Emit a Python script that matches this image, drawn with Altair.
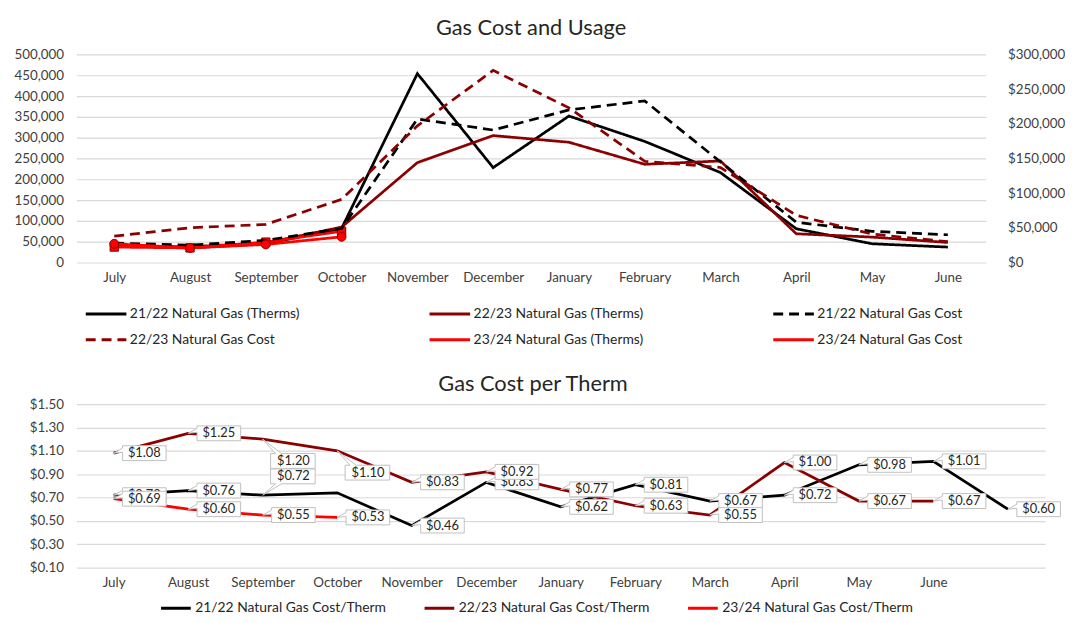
import altair as alt
import pandas as pd

# ---------------- data ----------------
months = ["July", "August", "September", "October", "November", "December",
          "January", "February", "March", "April", "May", "June"]

# legend entries are laid out column by column (2 rows x 3 columns)
top_series = ["21/22 Natural Gas (Therms)", "22/23 Natural Gas Cost",
              "22/23 Natural Gas (Therms)", "23/24 Natural Gas (Therms)",
              "21/22 Natural Gas Cost", "23/24 Natural Gas Cost"]

therms_2122 = [40000, 35000, 45000, 82000, 454000, 228000, 352000, 291000, 216000, 81000, 45000, 37000]
therms_2223 = [40000, 38000, 47000, 85000, 240000, 305000, 289000, 236000, 244000, 69000, 61000, 48000]
therms_2324 = [37000, 35000, 49000, 75000]
cost_2122 = [28000, 25000, 32000, 49000, 207000, 191000, 220000, 233000, 145000, 58000, 45000, 40000]
cost_2223 = [38000, 50000, 55000, 91000, 197000, 277000, 223000, 146000, 137000, 68000, 41000, 30000]
cost_2324 = [27000, 21000, 26000, 37000]

cpt_slots = months + [" "]   # 13th, unlabeled slot on the per-therm chart
cpt_series = ["21/22 Natural Gas Cost/Therm", "22/23 Natural Gas Cost/Therm", "23/24 Natural Gas Cost/Therm"]
cpt_2122 = [0.72, 0.76, 0.72, 0.74, 0.46, 0.83, 0.62, 0.81, 0.67, 0.72, 0.98, 1.01, 0.60]
cpt_2223 = [1.08, 1.25, 1.20, 1.10, 0.83, 0.92, 0.77, 0.63, 0.55, 1.00, 0.67, 0.67]
cpt_2324 = [0.69, 0.60, 0.55, 0.53]

# label styling (which labels are hidden / where the callout sits)
hidden_labels = {("21/22 Natural Gas Cost/Therm", "October")}
label_place = {("22/23 Natural Gas Cost/Therm", "September"): "below",
               ("21/22 Natural Gas Cost/Therm", "September"): "above",
               ("22/23 Natural Gas Cost/Therm", "October"): "below"}

# ---------------- styles ----------------
BLACK, DARK, RED = "#000000", "#8B0000", "#FF0000"
style_color = {"21/22 Natural Gas (Therms)": BLACK, "22/23 Natural Gas (Therms)": DARK,
               "21/22 Natural Gas Cost": BLACK, "22/23 Natural Gas Cost": DARK,
               "23/24 Natural Gas (Therms)": RED, "23/24 Natural Gas Cost": RED}
style_dash = {"21/22 Natural Gas Cost": [10, 6], "22/23 Natural Gas Cost": [10, 6]}
top_colors = [style_color[s] for s in top_series]
top_dash = [style_dash.get(s, [1, 0]) for s in top_series]
cpt_colors = [BLACK, DARK, RED]
FONT = "Lato"
TXT = "#262626"
AX = dict(labelFont=FONT, labelFontSize=13.5, labelColor="#404040", gridColor="#d9d9d9", gridWidth=1.2,
          ticks=False, domain=False, title=None)

bubble = {
    "right": "M0,0 L9,-5 L9,-7.5 L53,-7.5 L53,7.5 L9,7.5 L9,-1 Z",
    "below": "M0,0 L19,14.5 L53,14.5 L53,29.5 L8,29.5 L8,14.5 L13,14.5 Z",
    "above": "M0,0 L19,-11.5 L53,-11.5 L53,-26.5 L8,-26.5 L8,-11.5 L13,-11.5 Z",
}
bubble_dy = {"right": 0, "below": 22, "above": -19}

# ---------------- tables ----------------
rows = []
for name, vals, kind in [("21/22 Natural Gas (Therms)", therms_2122, "therms"),
                         ("22/23 Natural Gas (Therms)", therms_2223, "therms"),
                         ("21/22 Natural Gas Cost", cost_2122, "cost"),
                         ("22/23 Natural Gas Cost", cost_2223, "cost"),
                         ("23/24 Natural Gas (Therms)", therms_2324, "therms"),
                         ("23/24 Natural Gas Cost", cost_2324, "cost")]:
    for i, v in enumerate(vals):
        rows.append({"month": months[i], "idx": i, "series": name, "value": v, "kind": kind})
top_df = pd.DataFrame(rows)

rows = []
for name, vals in zip(cpt_series, [cpt_2122, cpt_2223, cpt_2324]):
    for i, v in enumerate(vals):
        m = cpt_slots[i]
        rows.append({"month": m, "idx": i, "series": name, "value": v,
                     "show": (name, m) not in hidden_labels,
                     "place": label_place.get((name, m), "right")})
cpt_df = pd.DataFrame(rows)

# ---------------- top chart ----------------
top_legend = alt.Legend(title=None, orient="none", legendX=8, legendY=254, columns=3,
                        symbolType="stroke", symbolSize=1681, symbolStrokeWidth=3,
                        clipHeight=16, rowPadding=10, columnPadding=129, gridAlign="all",
                        labelFont=FONT, labelFontSize=14, labelColor=TXT, labelOffset=2,
                        labelLimit=400, padding=0)

x_top = alt.X("month:O", scale=alt.Scale(domain=months), sort=None,
              axis=alt.Axis(labelAngle=0, labelPadding=8, grid=False, **AX))
y_left = alt.Y("value:Q", scale=alt.Scale(domain=[0, 500000]),
               axis=alt.Axis(orient="left", values=list(range(0, 500001, 50000)), format=",.0f",
                             labelPadding=13, grid=True, **AX))
y_right = alt.Y("value:Q", scale=alt.Scale(domain=[0, 300000]),
                axis=alt.Axis(orient="right", values=list(range(0, 300001, 50000)), format="$,.0f",
                              labelPadding=22, grid=False, **AX))
color_top = alt.Color("series:N", scale=alt.Scale(domain=top_series, range=top_colors), legend=top_legend)
dash_top = alt.StrokeDash("series:N", scale=alt.Scale(domain=top_series, range=top_dash), legend=top_legend)

base_top = alt.Chart(top_df)

left_lines = base_top.transform_filter(alt.datum.kind == "therms").mark_line(strokeWidth=2.75).encode(
    x=x_top, y=y_left, color=color_top, strokeDash=dash_top, order="idx:Q")
left_marks = base_top.transform_filter(alt.datum.series == "23/24 Natural Gas (Therms)").mark_point(
    shape="square", filled=True, fill=RED, stroke=DARK, strokeWidth=1, size=70, opacity=1).encode(
    x=x_top, y=y_left)
left = alt.layer(left_lines, left_marks)

right_lines = base_top.transform_filter(alt.datum.kind == "cost").mark_line(strokeWidth=2.75).encode(
    x=x_top, y=y_right, color=color_top, strokeDash=dash_top, order="idx:Q")
right_marks = base_top.transform_filter(alt.datum.series == "23/24 Natural Gas Cost").mark_point(
    shape="circle", filled=True, fill=RED, stroke=DARK, strokeWidth=1, size=80, opacity=1).encode(
    x=x_top, y=y_right)
right = alt.layer(right_lines, right_marks)

top = alt.layer(left, right).resolve_scale(y="independent").properties(
    width=918, height=210,
    title=alt.TitleParams("Gas Cost and Usage", font=FONT, fontSize=22, fontWeight="normal",
                          color=TXT, offset=8))

# ---------------- bottom chart ----------------
bot_legend = alt.Legend(title=None, orient="none", legendX=84, legendY=198, columns=3,
                        symbolType="stroke", symbolSize=900, symbolStrokeWidth=3,
                        clipHeight=16, columnPadding=37, gridAlign="all",
                        labelFont=FONT, labelFontSize=14, labelColor=TXT, labelOffset=3,
                        labelLimit=400, padding=0)

x_bot = alt.X("month:O", scale=alt.Scale(domain=cpt_slots), sort=None,
              axis=alt.Axis(labelAngle=0, labelPadding=8, grid=False, **AX))
y_bot = alt.Y("value:Q", scale=alt.Scale(domain=[0.1, 1.5]),
              axis=alt.Axis(values=[0.1, 0.3, 0.5, 0.7, 0.9, 1.1, 1.3, 1.5], format="$.2f",
                            labelPadding=13, grid=True, **AX))

base_bot = alt.Chart(cpt_df)
bot_layers = [base_bot.mark_line(strokeWidth=2.75).encode(
    x=x_bot, y=y_bot,
    color=alt.Color("series:N", scale=alt.Scale(domain=cpt_series, range=cpt_colors), legend=bot_legend),
    order="idx:Q")]

for s in cpt_series:
    for p in ["right", "below", "above"]:
        sub = base_bot.transform_filter(
            (alt.datum.series == s) & (alt.datum.place == p) & (alt.datum.show == True))
        bot_layers.append(sub.mark_point(shape=bubble[p], size=4, filled=True, fill="white",
                                         stroke="#bfbfbf", strokeWidth=1, opacity=1).encode(x=x_bot, y=y_bot))
        bot_layers.append(sub.mark_text(dx=31, dy=bubble_dy[p], font=FONT, fontSize=13, color=TXT).encode(
            x=x_bot, y=y_bot, text=alt.Text("value:Q", format="$.2f")))

bottom = alt.layer(*bot_layers).properties(
    width=978, height=165,
    title=alt.TitleParams("Gas Cost per Therm", font=FONT, fontSize=22, fontWeight="normal",
                          color=TXT, offset=1, dx=-28))

chart = alt.vconcat(top, bottom, spacing=26).resolve_scale(
    color="independent", strokeDash="independent"
).resolve_legend(color="independent", strokeDash="independent").properties(
    padding={"left": 5, "top": 6, "right": 0, "bottom": 0}, background="white"
).configure_view(stroke=None)

chart.save("out.html", embed_options={"renderer": "svg", "actions": False})
